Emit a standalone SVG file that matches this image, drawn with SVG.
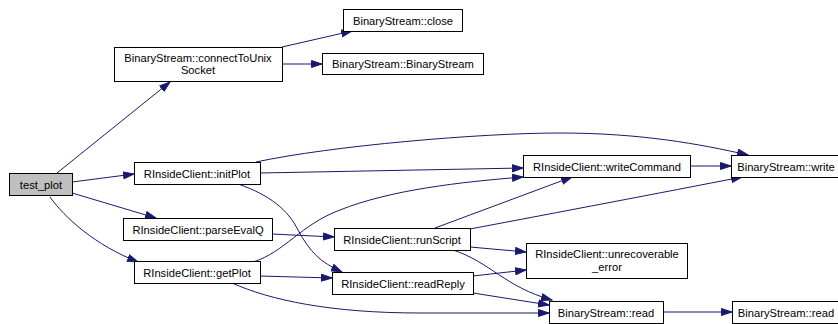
<svg xmlns="http://www.w3.org/2000/svg" width="838" height="324" viewBox="0 0 838 324">
<style>
.n rect{fill:#fff;stroke:#000;stroke-width:1}
.n text{font-family:"Liberation Sans",Arial,sans-serif;font-size:11.2px;fill:#000;text-anchor:middle}
.e path{fill:none;stroke:#191970;stroke-width:1;marker-end:url(#ah)}
</style>
<defs>
<marker id="ah" markerUnits="userSpaceOnUse" markerWidth="12" markerHeight="9" refX="11" refY="4" orient="auto">
<path d="M0.5,0.5 L11,4 L0.5,7.5 z" fill="#191970" stroke="#191970" stroke-width="1"/>
</marker>
</defs>
<rect width="838" height="324" fill="#fff"/>
<g class="e" id="edges">
<path d="M57,173 L170,82"/>
<path d="M282,47 L352,31"/>
<path d="M282,64 L322,64"/>
<path d="M72,182 L134,174"/>
<path d="M72,193 L156,218"/>
<path d="M50,197 C65,218 95,245 138,262"/>
<path d="M256,162 C330,146 480,133 560,133 C640,133 700,144 748,155"/>
<path d="M260,173 L523,168"/>
<path d="M238,184 C270,195 288,210 298,230 C310,252 320,262 342,272"/>
<path d="M272,234 L334,237"/>
<path d="M253,262 C285,252 300,225 340,210 C390,190 460,182 523,177"/>
<path d="M260,276 L332,278"/>
<path d="M232,283 C270,300 330,313 420,313 L549,313"/>
<path d="M435,228 L572,177"/>
<path d="M470,229 C560,212 660,193 742,177"/>
<path d="M470,247 L526,252"/>
<path d="M453,250 C490,262 505,287 552,300"/>
<path d="M473,276 L526,270"/>
<path d="M473,293 L549,305"/>
<path d="M663,312 L732,312"/>
<path d="M690,166 L731,166"/>
</g>
<g class="n" id="test_plot"><rect x="9.5" y="173.5" width="63" height="22" style="fill:#bfbfbf"/><text x="41" y="188.5">test_plot</text></g>
<g class="n" id="connectToUnixSocket"><rect x="114.5" y="47.5" width="168" height="34"/><text x="198" y="61.5">BinaryStream::connectToUnix</text><text x="198" y="73.5">Socket</text></g>
<g class="n" id="close"><rect x="343.5" y="9.5" width="119" height="22"/><text x="403" y="24.5">BinaryStream::close</text></g>
<g class="n" id="BinaryStream"><rect x="322.5" y="53.5" width="161" height="21"/><text x="403" y="68">BinaryStream::BinaryStream</text></g>
<g class="n" id="initPlot"><rect x="134.5" y="162.5" width="126" height="22"/><text x="197" y="177.5">RInsideClient::initPlot</text></g>
<g class="n" id="parseEvalQ"><rect x="123.5" y="218.5" width="149" height="22"/><text x="198" y="233.5">RInsideClient::parseEvalQ</text></g>
<g class="n" id="getPlot"><rect x="134.5" y="261.5" width="126" height="22"/><text x="197" y="276.5">RInsideClient::getPlot</text></g>
<g class="n" id="runScript"><rect x="334.5" y="228.5" width="136" height="22"/><text x="402" y="243.5">RInsideClient::runScript</text></g>
<g class="n" id="readReply"><rect x="332.5" y="272.5" width="141" height="22"/><text x="403" y="287.5">RInsideClient::readReply</text></g>
<g class="n" id="writeCommand"><rect x="523.5" y="155.5" width="167" height="22"/><text x="607" y="170.5">RInsideClient::writeCommand</text></g>
<g class="n" id="write"><rect x="731.5" y="155.5" width="114" height="22"/><text x="786" y="170.5">BinaryStream::write</text></g>
<g class="n" id="unrecoverable_error"><rect x="526.5" y="243.5" width="161" height="35"/><text x="607" y="258">RInsideClient::unrecoverable</text><text x="607" y="270.5">_error</text></g>
<g class="n" id="read1"><rect x="549.5" y="301.5" width="114" height="22"/><text x="606" y="316.5">BinaryStream::read</text></g>
<g class="n" id="read2"><rect x="732.5" y="301.5" width="114" height="22"/><text x="786" y="316.5">BinaryStream::read</text></g>
</svg>
